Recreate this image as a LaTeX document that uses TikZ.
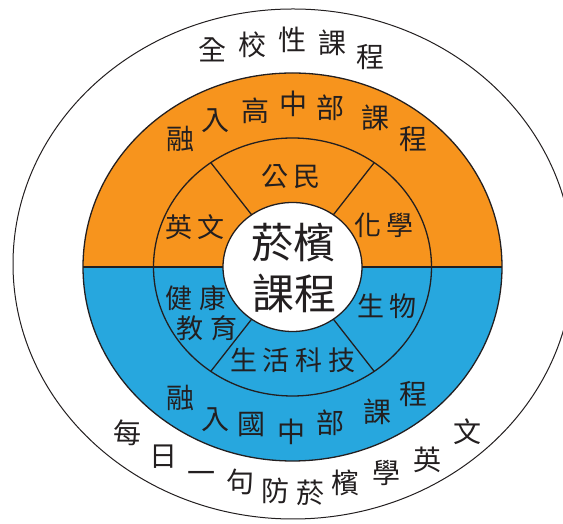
\documentclass[tikz,border=0pt]{standalone}
\usepackage{fontspec}
\newfontfamily\cjk{Noto Sans CJK TC}
\usetikzlibrary{calc}
\definecolor{bandorange}{RGB}{247,148,29}
\definecolor{bandblue}{RGB}{39,167,222}
\definecolor{ink}{RGB}{35,31,32}
\newcommand{\gp}{\hspace{6pt}}
\begin{document}
\begin{tikzpicture}[x=1pt,y=1pt,
  ch/.style={font=\cjk\fontsize{28}{28}\selectfont, text=ink, inner sep=0pt},
  sub/.style={font=\cjk\fontsize{27}{27}\selectfont, text=ink, inner sep=0pt},
  big/.style={font=\cjk\fontsize{42}{42}\selectfont, text=ink, inner sep=0pt},
  edge/.style={draw=ink, line width=1.3pt},
  thin/.style={draw=ink, line width=1pt}]
\useasboundingbox (0,0) rectangle (563,524);
\clip (0,0) rectangle (563,524);
\coordinate (oc) at (293,260);
\coordinate (c) at (292.5,257);
% outer ellipse
\draw[thin] (oc) ellipse[x radius=280pt, y radius=255pt];
% band halves
\coordinate (bl) at ($(c)+(-209.5pt,0)$);
\coordinate (br) at ($(c)+(209.5pt,0)$);
\fill[bandorange] (bl) arc[start angle=180, end angle=0, x radius=209.5pt, y radius=194pt] -- cycle;
\fill[bandblue] (bl) arc[start angle=180, end angle=360, x radius=209.5pt, y radius=194pt] -- cycle;
\draw[edge] (c) ellipse[x radius=209.5pt, y radius=194pt];
% subject ring
\draw[edge] (c) ellipse[x radius=139pt, y radius=129pt];
% center disc
\filldraw[fill=white, edge] (c) ellipse[x radius=69.5pt, y radius=64.5pt];
% boundaries
\coordinate (cl) at ($(c)+(-69.5pt,0)$);
\coordinate (cr) at ($(c)+(69.5pt,0)$);
\draw[edge] (bl) -- (cl);
\draw[edge] (cr) -- (br);
\foreach \a/\n in {54/a,126/b,234/d,306/e}{
  \coordinate (in\n) at ($(c)+(\a:69.5pt and 64.5pt)$);
  \coordinate (out\n) at ($(c)+(\a:139pt and 129pt)$);
  \draw[edge] (in\n) -- (out\n);
}
% outer top text
\node[ch] (t1) at (212,474) {全};
\node[ch] (t2) at (252,479) {校};
\node[ch] (t3) at (292,484) {性};
\node[ch] (t4) at (332,481) {課};
\node[ch] (t5) at (370,467) {程};
% orange band text
\node[ch] (o1) at (180,385) {融};
\node[ch] (o2) at (215,403) {入};
\node[ch] (o3) at (255,413) {高};
\node[ch] (o4) at (293,420) {中};
\node[ch] (o5) at (330,416) {部};
\node[ch] (o6) at (375,406) {課};
\node[ch] (o7) at (413,385) {程};
% subjects
\node[sub] (s1) at (291,347) {公\gp 民};
\node[sub] (s2) at (195,297) {英\gp 文};
\node[sub] (s3) at (384,299) {化\gp 學};
\node[sub] (s4) at (196,226) {健\hspace{7pt}康};
\node[sub] (s5) at (207,196) {教\hspace{7pt}育};
\node[sub] (s6) at (387,218) {生\gp 物};
\node[sub] (s7) at (293,164) {生\gp 活\gp 科\gp 技};
% center
\node[big] (m1) at (293,281) {菸檳};
\node[big] (m2) at (294,231) {課程};
% blue band text
\node[ch] (u1) at (180,126) {融};
\node[ch] (u2) at (215,104) {入};
\node[ch] (u3) at (251,99) {國};
\node[ch] (u4) at (291,92) {中};
\node[ch] (u5) at (330,101) {部};
\node[ch] (u6) at (377,112) {課};
\node[ch] (u7) at (413,130) {程};
% outer bottom text
\node[ch] (b1) at (127,91) {每};
\node[ch] (b2) at (163,67) {日};
\node[ch] (b3) at (201,47) {一};
\node[ch] (b4) at (240,42) {句};
\node[ch] (b5) at (275,33) {防};
\node[ch] (b6) at (310,31) {菸};
\node[ch] (b7) at (345,41) {檳};
\node[ch] (b8) at (386,51) {學};
\node[ch] (b9) at (427,64) {英};
\node[ch] (b10) at (467,92) {文};
\end{tikzpicture}
\end{document}
